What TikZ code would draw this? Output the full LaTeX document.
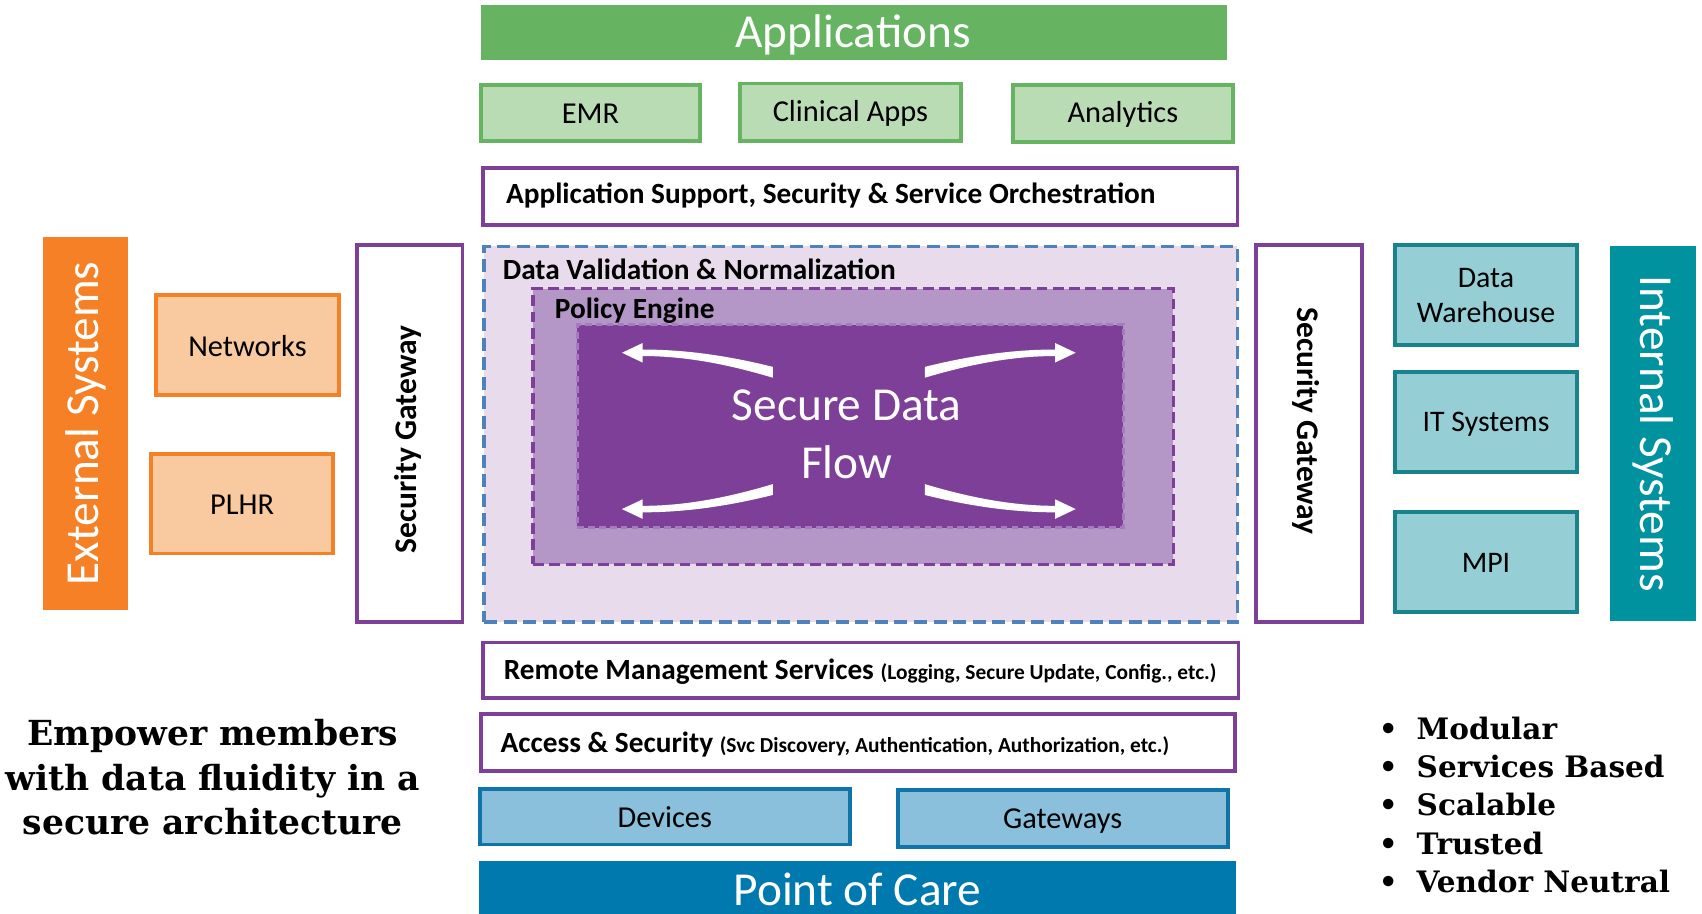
\documentclass[tikz,border=0pt]{standalone}
\usepackage{fontspec}
\setmainfont{Carlito}
\newfontfamily\headserif{DejaVu Serif}
\usetikzlibrary{fit}
\definecolor{appgreen}{HTML}{66B462}
\definecolor{applight}{HTML}{B9DCB5}
\definecolor{purp}{HTML}{7E3F98}
\definecolor{lav}{HTML}{E8DCEC}
\definecolor{policy}{HTML}{B597C7}
\definecolor{core}{HTML}{7D3F98}
\definecolor{coreborder}{HTML}{A27CBF}
\definecolor{dvblue}{HTML}{4F81BD}
\definecolor{extorange}{HTML}{F58025}
\definecolor{orangelight}{HTML}{F9C9A0}
\definecolor{intteal}{HTML}{00929F}
\definecolor{teallight}{HTML}{95CFD5}
\definecolor{tealborder}{HTML}{18838D}
\definecolor{devfill}{HTML}{8AC0DC}
\definecolor{devborder}{HTML}{0F75A9}
\definecolor{poc}{HTML}{0079AF}
\begin{document}
\begin{tikzpicture}[x=1pt,y=-1pt,
  bigtext/.style={text=white, font=\fontsize{43.6}{48}\selectfont},
  boxtext/.style={font=\fontsize{28}{32}\selectfont, align=center},
  boldlabel/.style={font=\fontsize{27}{30}\selectfont\bfseries, anchor=west, inner sep=0pt},
  smalltext/.style={},
  solidbar/.style={inner sep=0pt},
  greenbox/.style={draw=appgreen, fill=applight, line width=3.5pt, inner sep=0pt},
  purpbox/.style={draw=purp, fill=white, line width=3.5pt, inner sep=0pt},
  orangebox/.style={draw=extorange, fill=orangelight, line width=3.5pt, inner sep=0pt},
  tealbox/.style={draw=tealborder, fill=teallight, line width=3.5pt, inner sep=0pt},
  bluebox/.style={draw=devborder, fill=devfill, line width=3.5pt, inner sep=0pt},
  gatelabel/.style={font=\fontsize{29}{32}\selectfont\bfseries, inner sep=0pt},
  flowarrow/.style={fill=white, draw=none},
  serifbold/.style={font=\fontsize{31.8}{41}\selectfont\headserif\bfseries, inner sep=0pt}
]
\useasboundingbox (0,0) rectangle (1568,842);

% Applications
\node (apps) [solidbar, fill=appgreen, fit={(443,5) (1130,55)}] {};
\node (appstxt) [bigtext] at (786,32) {Applications};
\node (emr) [greenbox, fit={(443,78) (645,130)}] {};
\node (emrtxt) [boxtext] at ([yshift=-1pt]emr.center) {EMR};
\node (clin) [greenbox, fit={(682,77) (885,130)}] {};
\node (clintxt) [boxtext] at ([yshift=-1pt]clin.center) {Clinical Apps};
\node (anal) [greenbox, fit={(933,78) (1136,131)}] {};
\node (analtxt) [boxtext] at ([yshift=-1pt]anal.center) {Analytics};

% App support
\node (appsup) [purpbox, fit={(445,155) (1140,207)}] {};
\node (appsuptxt) [boldlabel] at (466,180) {Application Support, Security \& Service Orchestration};

% External systems
\node (ext) [solidbar, fill=extorange, fit={(40,218) (118,562)}] {};
\node (exttxt) [bigtext, rotate=90] at (ext.center) {External Systems};
\node (net) [orangebox, fit={(144,272) (312,364)}] {};
\node (nettxt) [boxtext] at ([yshift=-1pt]net.center) {Networks};
\node (plhr) [orangebox, fit={(139,418) (307,510)}] {};
\node (plhrtxt) [boxtext] at ([yshift=-1pt]plhr.center) {PLHR};

% Left gateway
\node (sgl) [purpbox, fit={(329,226) (426,573)}] {};
\node (sgltxt) [gatelabel, rotate=90] at (376,405) {Security Gateway};

% Data validation
\node (dv) [fill=lav, draw=dvblue, line width=3pt, dash pattern=on 12pt off 6pt, inner sep=0pt, fit={(446,227) (1140,573)}] {};
\node (dvtxt) [boldlabel] at (463,248) {Data Validation \& Normalization};
\node (pe) [fill=policy, draw=purp, line width=3pt, dash pattern=on 10pt off 5pt, inner sep=0pt, fit={(491,266) (1081,520)}] {};
\node (petxt) [boldlabel] at (511,286) {Policy Engine};
\node (core) [fill=core, draw=coreborder, line width=2pt, dash pattern=on 6pt off 4pt, inner sep=0pt, fit={(532,299) (1035,486)}] {};
\node (coretxt) [text=white, font=\fontsize{43.6}{53}\selectfont, align=center] at (780,400) {Secure Data\\Flow};

% flow arrows
\foreach \sx/\sy in {1/1,-1/1,1/-1,-1/-1}{
  \begin{scope}[shift={(782,397)}, xscale=\sx, yscale=\sy]
    \path[flowarrow] (-70,-59) .. controls (-110,-69) and (-150,-75) .. (-190,-75)
      -- (-190,-81) -- (-209,-72) -- (-190,-63) -- (-190,-69)
      .. controls (-150,-69) and (-110,-61) .. (-70,-49) -- cycle;
  \end{scope}
}

% Right gateway
\node (sgr) [purpbox, fit={(1157,226) (1255,573)}] {};
\node (sgrtxt) [gatelabel, rotate=-90] at (1203,388) {Security Gateway};

% Internal systems
\node (dw) [tealbox, fit={(1285,226) (1453,318)}] {};
\node (dwtxt) [boxtext, font=\fontsize{27.5}{32}\selectfont] at (dw.center) {Data\\Warehouse};
\node (its) [tealbox, fit={(1285,343) (1453,435)}] {};
\node (itstxt) [boxtext, font=\fontsize{27.5}{32}\selectfont] at ([yshift=-2pt]its.center) {IT Systems};
\node (mpi) [tealbox, fit={(1285,472) (1453,564)}] {};
\node (mpitxt) [boxtext, font=\fontsize{27.5}{32}\selectfont] at ([yshift=-1pt]mpi.center) {MPI};
\node (int) [solidbar, fill=intteal, fit={(1483,227) (1562,572)}] {};
\node (inttxt) [bigtext, rotate=-90] at (int.center) {Internal Systems};

% Remote management / Access
\node (rms) [purpbox, fit={(445,592) (1141,643)}] {};
\node (rmstxt) [boldlabel] at (464,619) {Remote Management Services {\fontsize{19.7}{22}\selectfont (Logging, Secure Update, Config., etc.)}};
\node (acc) [purpbox, fit={(443,658) (1138,710)}] {};
\node (acctxt) [boldlabel] at (461,686) {Access \& Security {\fontsize{19.7}{22}\selectfont (Svc Discovery, Authentication, Authorization, etc.)}};

% Devices / gateways
\node (dev) [bluebox, fit={(442,727) (783,778)}] {};
\node (devtxt) [boxtext] at (dev.center) {Devices};
\node (gw) [bluebox, fit={(827,728) (1131,780)}] {};
\node (gwtxt) [boxtext] at ([yshift=-2pt]gw.center) {Gateways};
\node (pocbar) [solidbar, fill=poc, fit={(441,793) (1139,845)}] {};
\node (poctxt) [bigtext] at (790,819) {Point of Care};

% Bottom texts
\node (emp) [serifbold, align=center] at (196,716) {Empower members\\with data fluidity in a\\secure architecture};
\node (bul) [font=\fontsize{27.2}{35.3}\selectfont\headserif\bfseries, align=left, anchor=north west, inner sep=0pt] at (1270,660)
  {\makebox[35pt][l]{•}Modular\\\makebox[35pt][l]{•}Services Based\\\makebox[35pt][l]{•}Scalable\\\makebox[35pt][l]{•}Trusted\\\makebox[35pt][l]{•}Vendor Neutral};
\end{tikzpicture}
\end{document}
